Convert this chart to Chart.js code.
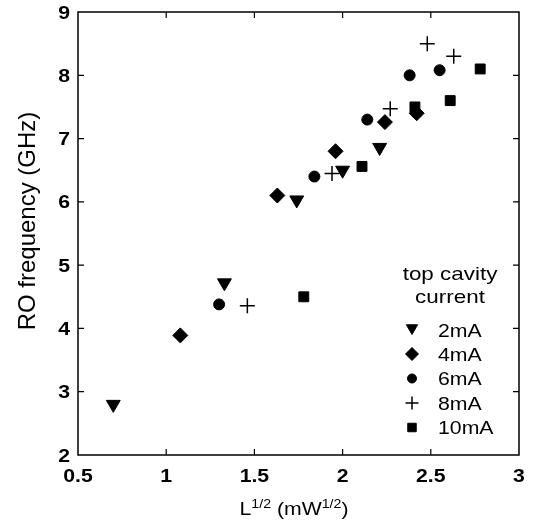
<!DOCTYPE html>
<html><head><meta charset="utf-8">
<script src="https://cdn.jsdelivr.net/npm/chart.js@4/dist/chart.umd.min.js"></script>
<style>html,body{margin:0;padding:0;background:#fff}#wrap{width:534px;height:522px}</style>
</head><body><div id="wrap"><canvas id="c" width="534" height="522"></canvas></div>
<script>
const seriesLabels = ['2mA', '4mA', '6mA', '8mA', '10mA'];
const x2mA = [0.70, 1.33, 1.74, 2.00, 2.21];
const y2mA = [2.80, 4.72, 6.03, 6.50, 6.86];
const x4mA = [1.08, 1.63, 1.96, 2.24, 2.42];
const y4mA = [3.89, 6.10, 6.80, 7.26, 7.40];
const x6mA = [1.30, 1.84, 2.14, 2.38, 2.55];
const y6mA = [4.38, 6.40, 7.30, 8.00, 8.08];
const x8mA = [1.46, 1.94, 2.27, 2.48, 2.63];
const y8mA = [4.36, 6.45, 7.47, 8.50, 8.30];
const x10mA = [1.78, 2.11, 2.41, 2.61, 2.78];
const y10mA = [4.50, 6.56, 7.50, 7.60, 8.10];
const xTicks = [0.5, 1, 1.5, 2, 2.5, 3];
const xTickLabels = ['0.5', '1', '1.5', '2', '2.5', '3'];
const yTicks = [2, 3, 4, 5, 6, 7, 8, 9];
const yTickLabels = ['2', '3', '4', '5', '6', '7', '8', '9'];

const xs = [x2mA, x4mA, x6mA, x8mA, x10mA];
const ys = [y2mA, y4mA, y6mA, y8mA, y10mA];
const styles = [
  {pointStyle: 'triangle', radius: 8, rotation: 180, lw: 1},
  {pointStyle: 'rectRot', radius: 7.5, rotation: 0, lw: 1},
  {pointStyle: 'circle', radius: 5.5, rotation: 0, lw: 1},
  {pointStyle: 'cross', radius: 7.5, rotation: 0, lw: 1.5},
  {pointStyle: 'rect', radius: 7, rotation: 0, lw: 1}
];
const legendStyles = [
  {radius: 6.5}, {radius: 6.5}, {radius: 4.5}, {radius: 6.5}, {radius: 6}
];

const FONT = '"Liberation Sans", Arial, sans-serif';
const SX = 1.18;

function sText(ctx, text, x, y, font, align, baseline) {
  ctx.save();
  ctx.font = font;
  ctx.textBaseline = baseline || 'alphabetic';
  ctx.textAlign = 'left';
  const w = ctx.measureText(text).width * SX;
  const x0 = align === 'center' ? x - w / 2 : (align === 'right' ? x - w : x);
  ctx.translate(x0, y);
  ctx.scale(SX, 1);
  ctx.fillStyle = '#000';
  ctx.fillText(text, 0, 0);
  ctx.restore();
  return w;
}

const decor = {
  id: 'decor',
  afterDraw(chart) {
    const ctx = chart.ctx;
    const a = chart.chartArea;
    const sx = chart.scales.x, sy = chart.scales.y;
    ctx.save();
    ctx.strokeStyle = '#000';
    ctx.lineWidth = 1.5;
    ctx.strokeRect(a.left, a.top, a.right - a.left, a.bottom - a.top);
    const TL = 6;
    ctx.lineWidth = 1.2;
    ctx.beginPath();
    sx.ticks.forEach(t => {
      const px = sx.getPixelForValue(t.value);
      if (px <= a.left + 1 || px >= a.right - 1) return;
      ctx.moveTo(px, a.bottom); ctx.lineTo(px, a.bottom - TL);
      ctx.moveTo(px, a.top); ctx.lineTo(px, a.top + TL);
    });
    sy.ticks.forEach(t => {
      const py = sy.getPixelForValue(t.value);
      if (py <= a.top + 1 || py >= a.bottom - 1) return;
      ctx.moveTo(a.left, py); ctx.lineTo(a.left + TL, py);
      ctx.moveTo(a.right, py); ctx.lineTo(a.right - TL, py);
    });
    ctx.stroke();
    ctx.restore();

    // tick labels
    const tf = 'bold 18px ' + FONT;
    sx.ticks.forEach((t, i) => {
      sText(ctx, xTickLabels[i], sx.getPixelForValue(t.value), 482, tf, 'center');
    });
    sy.ticks.forEach((t, i) => {
      sText(ctx, yTickLabels[i], 70, sy.getPixelForValue(t.value) + 6.5, tf, 'right');
    });

    // x title with superscripts
    const big = '18px ' + FONT, small = '12px ' + FONT;
    const parts = [['L', big, 0], ['1/2', small, -7], [' (mW', big, 0], ['1/2', small, -7], [')', big, 0]];
    let total = 0;
    parts.forEach(p => { ctx.font = p[1]; total += ctx.measureText(p[0]).width * SX; });
    let cx = 294 - total / 2;
    const base = 515;
    parts.forEach(p => { cx += sText(ctx, p[0], cx, base + p[2], p[1], 'left'); });

    // y title
    ctx.save();
    ctx.translate(35, 221);
    ctx.rotate(-Math.PI / 2);
    ctx.font = '24px ' + FONT;
    ctx.textAlign = 'center';
    ctx.textBaseline = 'alphabetic';
    ctx.fillStyle = '#000';
    ctx.fillText('RO frequency (GHz)', 0, 0);
    ctx.restore();

    // legend
    const lf = '18px ' + FONT;
    sText(ctx, 'top cavity', 450, 280, '19px ' + FONT, 'center');
    sText(ctx, 'current', 450, 303, '19px ' + FONT, 'center');
    const rowY = [330, 354, 378.5, 403, 427.5];
    chart.data.datasets.forEach((ds, i) => {
      const st = styles[i];
      ctx.save();
      ctx.fillStyle = '#000';
      ctx.strokeStyle = '#000';
      ctx.lineWidth = st.lw;
      let py = rowY[i];
      if (i === 0) py -= 2;
      Chart.helpers.drawPoint(ctx, {pointStyle: st.pointStyle, radius: legendStyles[i].radius, rotation: st.rotation, borderWidth: st.lw}, 412, py);
      ctx.restore();
      sText(ctx, ds.label, 438, rowY[i] + 6.5, lf, 'left');
    });
  }
};

const datasets = seriesLabels.map((lab, i) => ({
  label: lab,
  data: xs[i].map((v, j) => ({x: v, y: ys[i][j]})),
  pointStyle: styles[i].pointStyle,
  pointRadius: styles[i].radius,
  pointRotation: styles[i].rotation,
  pointBackgroundColor: '#000',
  pointBorderColor: '#000',
  pointBorderWidth: styles[i].lw,
  showLine: false
}));

new Chart(document.getElementById('c'), {
  type: 'scatter',
  data: {datasets},
  options: {
    responsive: false,
    animation: false,
    devicePixelRatio: 1,
    layout: {padding: {top: 12, right: 15, left: 0, bottom: 0}},
    plugins: {legend: {display: false}, tooltip: {enabled: false}},
    scales: {
      x: {
        type: 'linear', min: xTicks[0], max: xTicks[xTicks.length - 1],
        afterBuildTicks(s) { s.ticks = xTicks.map(v => ({value: v})); },
        ticks: {display: false},
        grid: {display: false, drawTicks: false},
        border: {display: false},
        afterFit(s) { s.height = 67; }
      },
      y: {
        type: 'linear', min: yTicks[0], max: yTicks[yTicks.length - 1],
        afterBuildTicks(s) { s.ticks = yTicks.map(v => ({value: v})); },
        ticks: {display: false},
        grid: {display: false, drawTicks: false},
        border: {display: false},
        afterFit(s) { s.width = 78; }
      }
    }
  },
  plugins: [decor]
});
</script></body></html>
